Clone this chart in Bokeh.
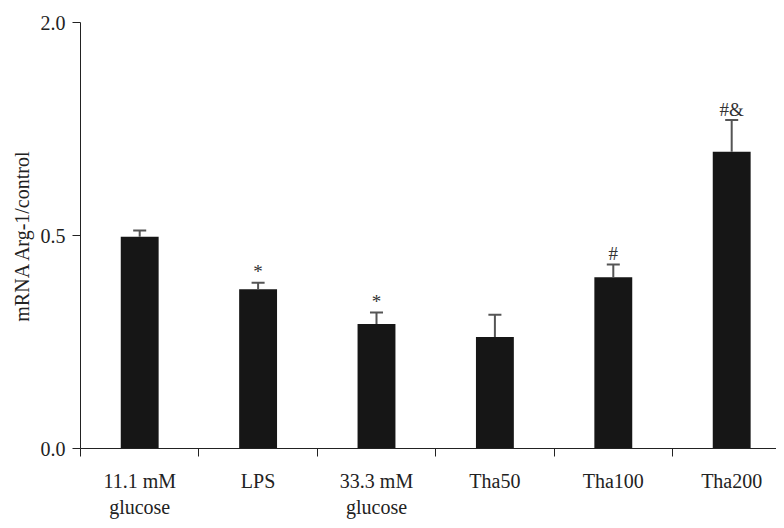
import numpy as np
from bokeh.plotting import figure
from bokeh.models import FixedTicker, Range1d, ColumnDataSource
from bokeh.core.properties import value
from bokeh.embed import file_html
from bokeh.resources import INLINE

# ---- data ----
categories = ["11.1 mM\nglucose", "LPS", "33.3 mM\nglucose", "Tha50", "Tha100", "Tha200"]
means = [0.497, 0.374, 0.292, 0.262, 0.402, 1.089]
sems = [0.038, 0.015, 0.027, 0.052, 0.030, 0.224]
marks = ["", "*", "*", "", "#", "#&"]
y_tick_values = [0.0, 0.5, 2.0]
y_tick_labels = ["0.0", "0.5", "2.0"]

# The y axis is piecewise linear: 0.0, 0.5 and 2.0 are equally spaced.
seg = list(range(len(y_tick_values)))


def to_axis(v):
    return np.interp(v, y_tick_values, seg)


n = len(categories)
centers = [i + 0.5 for i in range(n)]
tops = [m + s for m, s in zip(means, sems)]

FONT = "Liberation Serif"
W, H = 776, 520
BL, BT, BB = 80, 22, 69
FRAME_H = H - BT - BB
FRAME_W = W - BL
CAT_PX = 118.4
gap = 11 * (seg[-1] - seg[0]) / FRAME_H

src = ColumnDataSource(dict(
    x=centers,
    mean=to_axis(means),
    top=to_axis(tops),
    cap_l=[c - 0.055 for c in centers],
    cap_r=[c + 0.055 for c in centers],
    mark=marks,
    mark_y=to_axis(tops) + gap,
))

p = figure(width=W, height=H, output_backend="svg", toolbar_location=None,
           x_range=Range1d(0, FRAME_W / CAT_PX), y_range=Range1d(seg[0], seg[-1]),
           min_border_left=BL, min_border_right=0, min_border_top=BT,
           min_border_bottom=BB)
p.outline_line_color = None
p.grid.visible = False
p.background_fill_color = "white"

p.vbar(x="x", top="mean", bottom=0, width=0.32, source=src,
       fill_color="#161616", line_color=None)
p.segment(x0="x", y0="mean", x1="x", y1="top", source=src,
          line_color="#555555", line_width=2)
p.segment(x0="cap_l", y0="top", x1="cap_r", y1="top", source=src,
          line_color="#555555", line_width=2)
p.text(x="x", y="mark_y", text="mark", source=src, text_align="center",
       text_baseline="alphabetic", text_font=value(FONT),
       text_font_size="19px", text_color="#333333")

# x axis
xa = p.xaxis[0]
xa.ticker = FixedTicker(ticks=centers, minor_ticks=list(range(n + 1)))
xa.major_label_overrides = {c: lab for c, lab in zip(centers, categories)}
xa.major_tick_out = 0
xa.major_tick_in = 0
xa.minor_tick_out = 8
xa.minor_tick_in = 0
xa.minor_tick_line_color = "#222222"
xa.axis_line_color = "#222222"
xa.major_label_standoff = 13
xa.major_label_text_font = FONT
xa.major_label_text_font_size = "20px"
xa.major_label_text_color = "#222222"

# y axis
ya = p.yaxis[0]
ya.ticker = FixedTicker(ticks=seg, minor_ticks=[])
ya.major_label_overrides = {s: lab for s, lab in zip(seg, y_tick_labels)}
ya.major_tick_out = 8
ya.major_tick_in = 0
ya.major_tick_line_color = "#222222"
ya.axis_line_color = "#222222"
ya.major_label_standoff = 7
ya.major_label_text_font = FONT
ya.major_label_text_font_size = "20px"
ya.major_label_text_color = "#222222"
ya.axis_label = "mRNA Arg-1/control"
ya.axis_label_text_font = FONT
ya.axis_label_text_font_size = "20px"
ya.axis_label_text_font_style = "normal"
ya.axis_label_text_color = "#222222"
ya.axis_label_standoff = 5

open("out.html", "w").write(file_html(p, INLINE))
